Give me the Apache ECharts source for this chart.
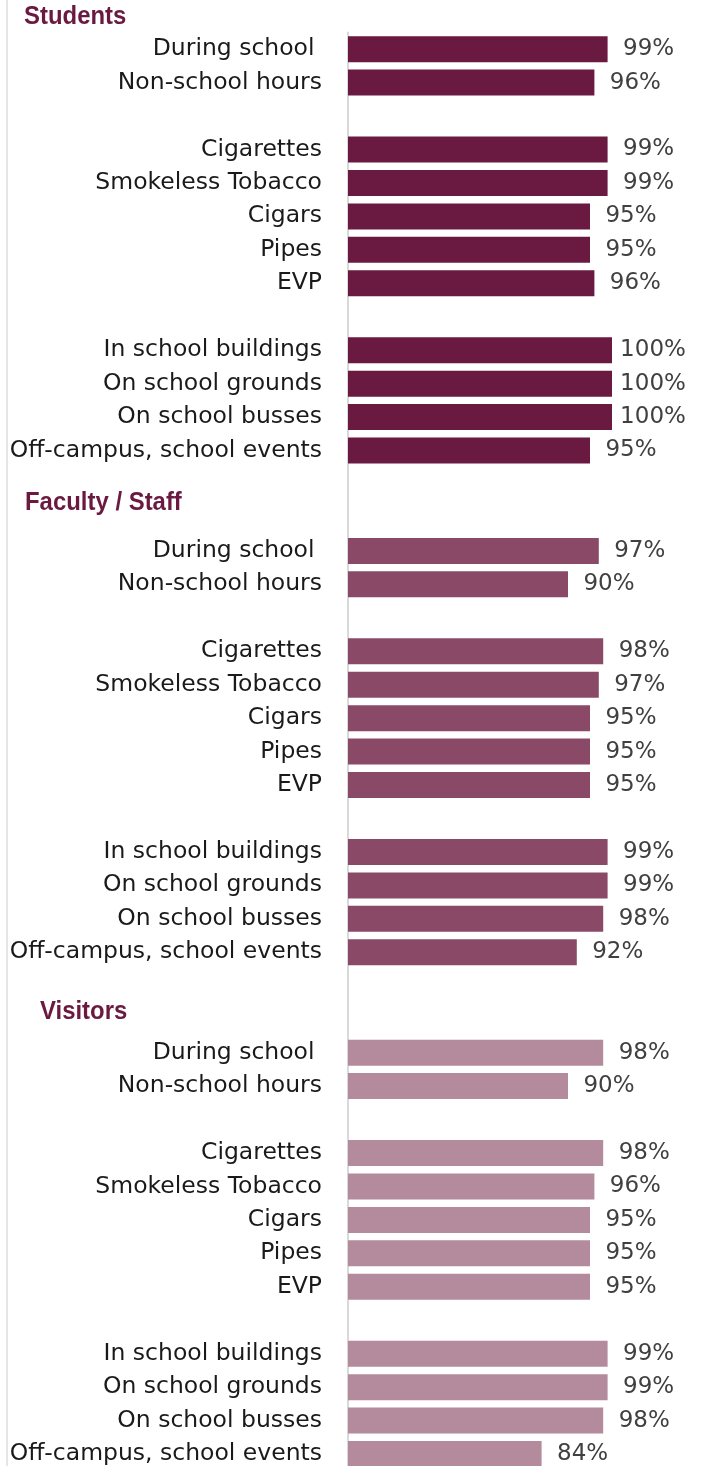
<!DOCTYPE html>
<html>
<head>
<meta charset="utf-8">
<script src="https://cdn.jsdelivr.net/npm/echarts@6/dist/echarts.min.js"></script>
<style>
html,body{margin:0;padding:0;background:#fff;overflow:hidden;}
#chart{width:702px;height:1490px;}
</style>
</head>
<body>
<div id="chart"></div>
<script>
// ---- data ----
var groupTitles = ['Students', 'Faculty / Staff', 'Visitors'];
var timingItems = ['During school ', 'Non-school hours'];
var productItems = ['Cigarettes', 'Smokeless Tobacco', 'Cigars', 'Pipes', 'EVP'];
var locationItems = ['In school buildings', 'On school grounds', 'On school busses', 'Off-campus, school events'];
var studentsValues = [99, 96, 99, 99, 95, 95, 96, 100, 100, 100, 95];
var facultyValues  = [97, 90, 98, 97, 95, 95, 95, 99, 99, 98, 92];
var visitorsValues = [98, 90, 98, 96, 95, 95, 95, 99, 99, 98, 84];
var barColors = ['#6A1A41', '#8A4A67', '#B48A9D'];

// ---- build rows ----
var categories = [];
var seriesData = [[], [], []];
var groups = [studentsValues, facultyValues, visitorsValues];
function pushRow(label, gi, val) {
  categories.push(label);
  for (var k = 0; k < 3; k++) seriesData[k].push(k === gi ? val : '-');
}
groups.forEach(function (vals, gi) {
  if (gi > 0) { pushRow('', -1); pushRow(' ', -1); }
  var idx = 0;
  timingItems.forEach(function (t) { pushRow(t, gi, vals[idx++]); });
  pushRow('', -1);
  productItems.forEach(function (t) { pushRow(t, gi, vals[idx++]); });
  pushRow('', -1);
  locationItems.forEach(function (t) { pushRow(t, gi, vals[idx++]); });
});

var pitch = 33.45;
var gridTop = 32.4;

var chart = echarts.init(document.getElementById('chart'));
var series = groups.map(function (vals, gi) {
  return {
    name: groupTitles[gi],
    type: 'bar',
    stack: 'all',
    barWidth: 26,
    data: seriesData[gi],
    itemStyle: { color: barColors[gi] },
    label: {
      show: true,
      position: 'right',
      distance: 41,
      align: 'center',
      formatter: '{c}%',
      fontFamily: 'DejaVu Sans',
      fontSize: 23,
      color: '#404040'
    },
    silent: true
  };
});

var headerStyle = { fontSize: 26, fontWeight: 'bold', fontFamily: 'Liberation Sans', fill: '#6A1A41' };
function header(text, x, y) {
  return { type: 'text', x: x, y: y, scaleX: 0.92, style: Object.assign({ text: text, textVerticalAlign: 'middle', verticalAlign: 'middle' }, headerStyle) };
}

chart.setOption({
  animation: false,
  backgroundColor: '#ffffff',
  grid: { left: 348, top: gridTop, width: 264, height: pitch * categories.length },
  xAxis: {
    type: 'value', min: 40, max: 100,
    show: false, splitLine: { show: false }
  },
  yAxis: {
    type: 'category', inverse: true, data: categories,
    axisLine: { show: true, lineStyle: { color: '#d9d9d9', width: 2 } },
    axisTick: { show: false },
    axisLabel: {
      margin: 26, interval: 0,
      fontFamily: 'DejaVu Sans', fontSize: 23.5, color: '#1a1a1a'
    }
  },
  series: series,
  graphic: [
    { type: 'line', shape: { x1: 7, y1: 0, x2: 7, y2: 1490 }, style: { stroke: '#cccccc', lineWidth: 1 } },
    header(groupTitles[0], 24, 17),
    header(groupTitles[1], 25, 503),
    header(groupTitles[2], 40, 1012)
  ]
});
</script>
</body>
</html>
